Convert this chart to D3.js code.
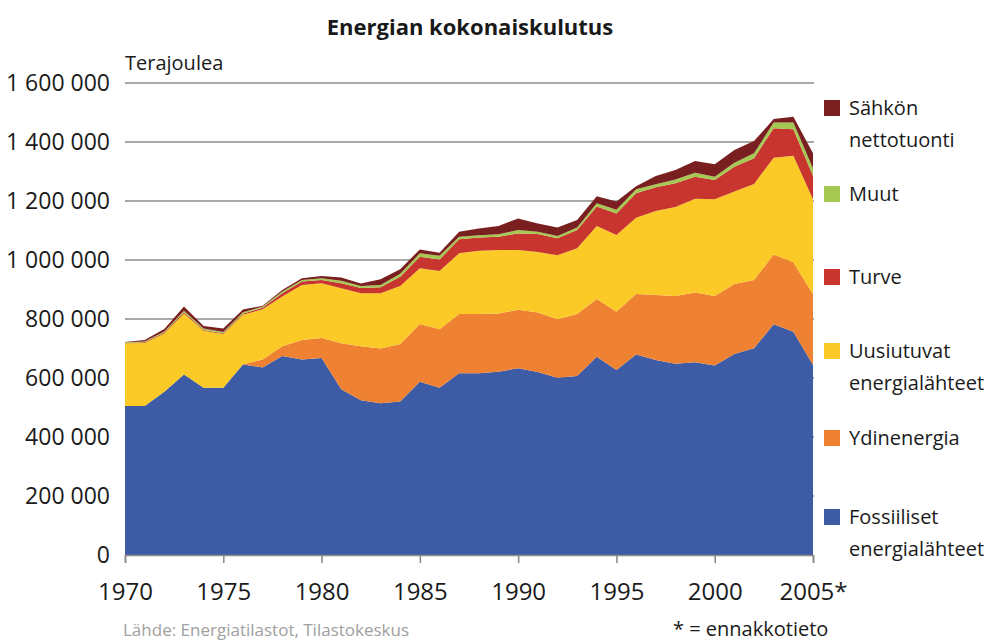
<!DOCTYPE html>
<html>
<head>
<meta charset="utf-8">
<script src="https://cdn.jsdelivr.net/npm/d3@7"></script>
<style>
  body { margin: 0; background: #fff; }
  svg text { font-family: "Open Sans", sans-serif; }
</style>
</head>
<body>
<div id="chart"></div>
<script>
// vuodet ja sarjat (TJ)
const years = [1970,1971,1972,1973,1974,1975,1976,1977,1978,1979,
               1980,1981,1982,1983,1984,1985,1986,1987,1988,1989,
               1990,1991,1992,1993,1994,1995,1996,1997,1998,1999,
               2000,2001,2002,2003,2004,2005];

const fossiiliset = [505000,505000,553000,612000,567000,567000,646000,636000,675000,663000,
                     668000,562000,525000,514000,520000,587000,567000,616000,616000,621000,
                     633000,620000,601000,607000,672000,627000,680000,661000,648000,653000,
                     642000,681000,701000,782000,757000,644000];
const ydinenergia = [0,0,0,0,0,0,0,27000,33000,66000,
                     68000,156000,183000,186000,195000,196000,198000,201000,201000,198000,
                     198000,202000,198000,210000,196000,198000,205000,220000,230000,237000,
                     236000,238000,231000,237000,235000,240000];
const uusiutuvat = [213000,214000,198000,207000,193000,182000,168000,170000,168000,186000,
                    185000,186000,179000,187000,197000,189000,198000,206000,214000,215000,
                    203000,205000,217000,223000,247000,260000,258000,285000,302000,318000,
                    328000,313000,326000,328000,361000,322000];
const turve = [1000,2000,3000,4000,3000,3000,4000,5000,11000,12000,
               11000,17000,18000,21000,31000,39000,39000,47000,45000,45000,
               56000,61000,58000,62000,66000,73000,83000,81000,80000,74000,
               65000,84000,87000,100000,90000,79000];
const muut = [2000,3000,4000,5000,5000,4000,5000,4000,6000,5000,
              6000,9000,7000,7000,10000,12000,12000,9000,8000,8000,
              12000,8000,7000,8000,11000,12000,14000,10000,13000,14000,
              11000,14000,17000,19000,23000,25000];
const tuonti = [1000,5000,8000,14000,8000,12000,9000,3000,5000,6000,
                8000,11000,8000,20000,16000,13000,11000,17000,23000,28000,
                39000,28000,29000,26000,24000,28000,10000,28000,32000,40000,
                43000,43000,41000,12000,20000,52000];

const yTicks = [0,200000,400000,600000,800000,1000000,1200000,1400000,1600000];
const xTicks = [1970,1975,1980,1985,1990,1995,2000,2005];

const keys = ["fossiiliset","ydinenergia","uusiutuvat","turve","muut","tuonti"];
const labels = {
  fossiiliset: ["Fossiiliset","energialähteet"],
  ydinenergia: ["Ydinenergia"],
  uusiutuvat: ["Uusiutuvat","energialähteet"],
  turve: ["Turve"],
  muut: ["Muut"],
  tuonti: ["Sähkön","nettotuonti"]
};
const colors = {
  fossiiliset: "#3e5ba5",
  ydinenergia: "#ef8232",
  uusiutuvat: "#fbca26",
  turve: "#c8352e",
  muut: "#a4c852",
  tuonti: "#7a1f1f"
};
const legendY = { tuonti: 108, muut: 194, turve: 277, uusiutuvat: 351, ydinenergia: 438, fossiiliset: 517 };

const series = { fossiiliset, ydinenergia, uusiutuvat, turve, muut, tuonti };
const table = years.map((yr, i) => {
  const row = { year: yr };
  keys.forEach(k => row[k] = series[k][i]);
  return row;
});

const W = 995, H = 644;
const plotL = 125, plotR = 813, plotT = 83, plotB = 555;

const svg = d3.select("#chart").append("svg")
  .attr("width", W).attr("height", H);

const x = d3.scaleLinear().domain([1970, 2005]).range([plotL, plotR]);
const y = d3.scaleLinear().domain([0, 1600000]).range([plotB, plotT]);

// grid
svg.append("g")
  .selectAll("line")
  .data(yTicks.slice(1))
  .enter().append("line")
  .attr("x1", plotL).attr("x2", plotR + 1)
  .attr("y1", d => y(d)).attr("y2", d => y(d))
  .attr("stroke", "#8c8c8c").attr("stroke-width", 1.6);

// areas
const stack = d3.stack().keys(keys);
const layers = stack(table);
const area = d3.area()
  .x(d => x(d.data.year))
  .y0(d => y(d[0]))
  .y1(d => y(d[1]));

svg.append("g")
  .selectAll("path")
  .data(layers)
  .enter().append("path")
  .attr("d", area)
  .attr("fill", d => colors[d.key]);

// x axis
const xAxis = svg.append("g")
  .attr("transform", `translate(0,${plotB})`)
  .call(d3.axisBottom(x).tickValues(xTicks).tickSize(8).tickPadding(20)
    .tickFormat(d => d === 2005 ? "2005*" : d));
xAxis.select(".domain").attr("stroke", "#8c8c8c").attr("stroke-width", 1.6);
xAxis.selectAll(".tick line").attr("stroke", "#8c8c8c").attr("stroke-width", 1.6);
xAxis.selectAll(".tick text")
  .attr("fill", "#1a1a1a")
  .style("font-size", "24px")
  .style("font-family", "'Open Sans', sans-serif");

// y labels
const yAxis = svg.append("g")
  .attr("transform", `translate(${plotL},0)`)
  .call(d3.axisLeft(y).tickValues(yTicks).tickSize(0).tickPadding(15)
    .tickFormat(d => d3.format(",")(d).replace(/,/g, " ")));
yAxis.select(".domain").remove();
yAxis.selectAll(".tick text")
  .attr("fill", "#1a1a1a")
  .style("font-size", "23px")
  .style("font-family", "'Open Sans', sans-serif");

// title + unit
svg.append("text")
  .attr("x", 470).attr("y", 35)
  .attr("text-anchor", "middle")
  .style("font-size", "22px").style("font-weight", "bold")
  .attr("fill", "#1a1a1a")
  .text("Energian kokonaiskulutus");

svg.append("text")
  .attr("x", 125).attr("y", 70)
  .style("font-size", "20px")
  .attr("fill", "#1a1a1a")
  .text("Terajoulea");

// legend
const leg = svg.append("g")
  .selectAll("g")
  .data(keys)
  .enter().append("g")
  .attr("transform", k => `translate(824,${legendY[k]})`);

leg.append("rect")
  .attr("x", 0).attr("y", -8)
  .attr("width", 16).attr("height", 16)
  .attr("fill", k => colors[k]);

leg.append("text")
  .attr("x", 25).attr("y", 7)
  .style("font-size", "20px")
  .attr("fill", "#1a1a1a")
  .selectAll("tspan")
  .data(k => labels[k])
  .enter().append("tspan")
  .attr("x", 25)
  .attr("dy", (d, i) => i === 0 ? 0 : 32)
  .text(d => d);

// footer
svg.append("text")
  .attr("x", 123).attr("y", 636)
  .style("font-size", "17px")
  .attr("fill", "#a0a0a0")
  .text("Lähde: Energiatilastot, Tilastokeskus");

svg.append("text")
  .attr("x", 673).attr("y", 636)
  .style("font-size", "20px")
  .attr("fill", "#1a1a1a")
  .text("* = ennakkotieto");
</script>
</body>
</html>
